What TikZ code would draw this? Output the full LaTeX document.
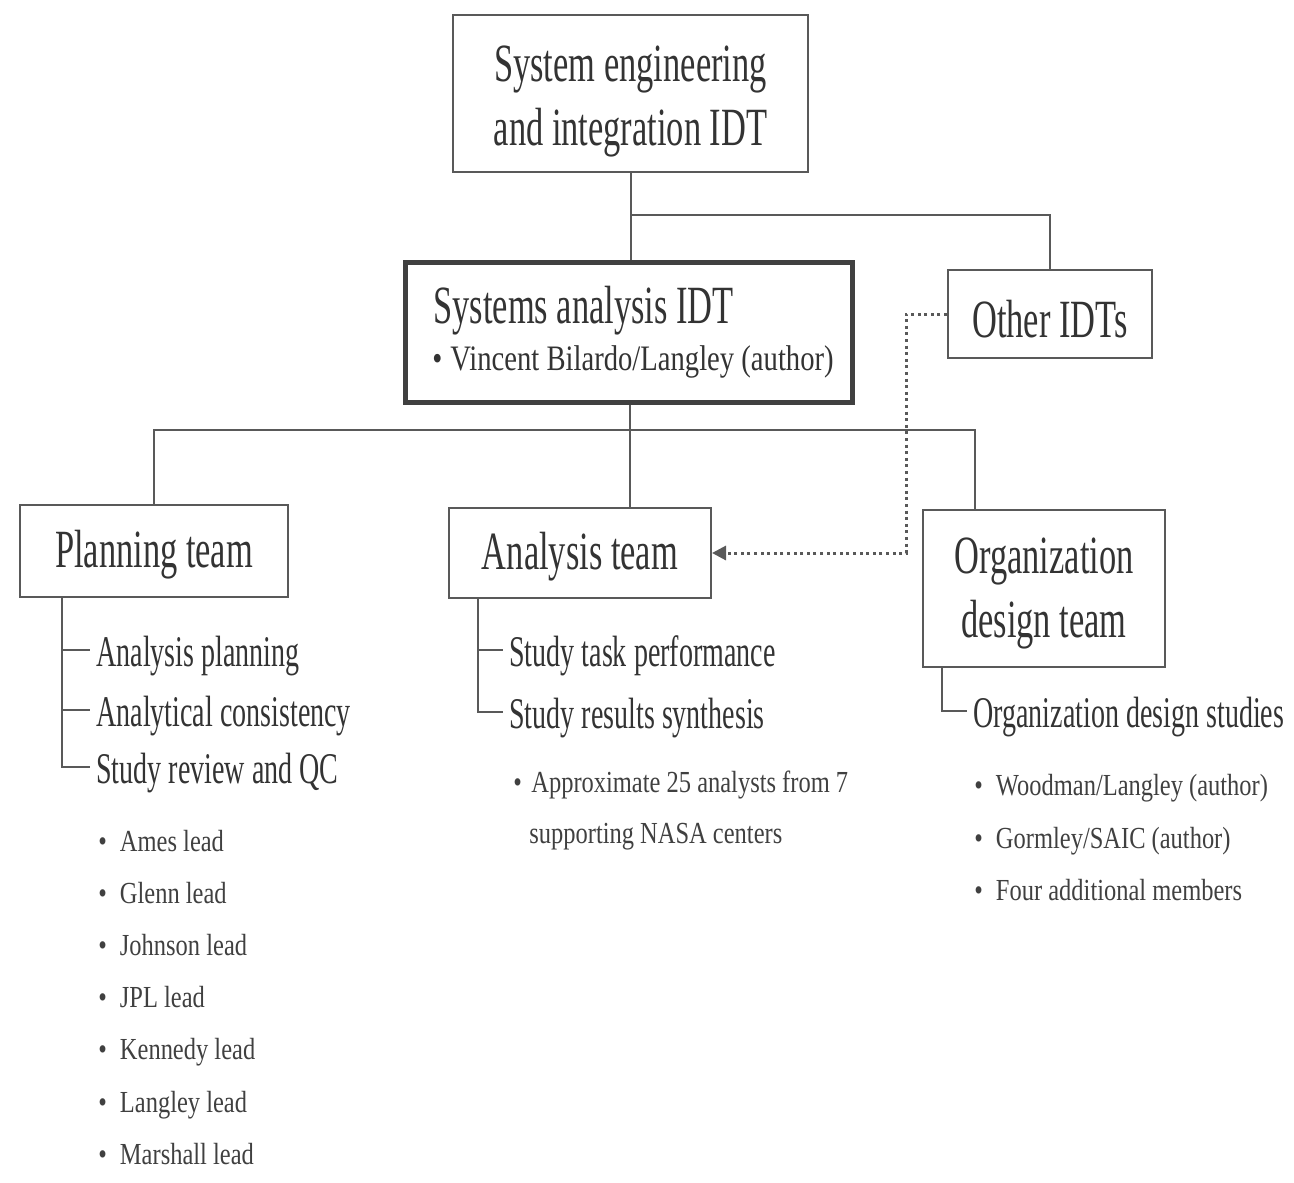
\documentclass[tikz,border=0pt]{standalone}
\usepackage{fontspec}
\setmainfont{Liberation Serif}[FakeStretch=0.64]
\newfontfamily\notefont{Liberation Serif}[FakeStretch=0.8]
\usetikzlibrary{arrows.meta}

\newcommand\bigtxt{\fontsize{26.9}{32}\selectfont}
\newcommand\midtxt{\fontsize{21.9}{27}\selectfont}
\newcommand\smalltxt{\notefont\fontsize{15.3}{26}\selectfont}
\newcommand\bul[1][6.5pt]{\textbullet\hspace{#1}}

\tikzset{
  box/.style={draw=black!65, line width=1pt, text=black!80, font=\bigtxt, align=center, inner sep=0pt},
  link/.style={draw=black!65, line width=1pt},
  item/.style={anchor=west, inner xsep=3pt, inner ysep=0pt, text height=16pt, text depth=0pt, text=black!80, font=\midtxt},
  note/.style={anchor=base west, inner sep=0pt, text=black!75, font=\smalltxt},
}

\begin{document}
\begin{tikzpicture}[x=0.5pt, y=-0.5pt]
\useasboundingbox (0,0) rectangle (1294,1182);

% Boxes
\node[box, minimum width=177.5pt, minimum height=78.5pt] (top) at (630.5,93.5)
  {\rule{0pt}{28pt}System engineering\\and integration IDT\rule[-8pt]{0pt}{8pt}};
\node[box, line width=2.5pt, draw=black!75, minimum width=223.5pt, minimum height=70pt] (sys) at (628.5,332) {};
\node[note, font=\bigtxt, text=black!80] (systitle) at (433,323) {Systems analysis IDT};
\node[note, font=\notefont\fontsize{17.9}{26}\selectfont, text=black!80] (sysauthor) at (432,370) {\bul[4pt]Vincent Bilardo/Langley (author)};
\node[box, text height=23pt, text depth=0pt, minimum width=102pt, minimum height=44pt] (other) at (1050,314) {Other IDTs};
\node[box, text height=20pt, text depth=4pt, minimum width=134pt, minimum height=46pt] (plan) at (154,551) {Planning team};
\node[box, text height=20pt, text depth=4pt, minimum width=131pt, minimum height=45pt] (anal) at (580,553) {Analysis team};
\node[box, minimum width=121pt, minimum height=78.5pt] (org) at (1044,588.5)
  {\rule{0pt}{24pt}Organization\\design team\rule[-7.5pt]{0pt}{7.5pt}};

% Tree links
\coordinate (j1) at (630,215);
\coordinate (j2) at (630,430);
\coordinate (orgtop) at (975,510);
\draw[link] (top.south) -- (top.south |- sys.north);
\draw[link] (j1) -| (other.north);
\draw[link] (sys.south -| j2) -- (j2);
\draw[link] (j2) -| (plan.north);
\draw[link] (j2) -- (j2 |- anal.north);
\draw[link] (j2) -| (orgtop);

% Dotted link from other IDTs
\draw[link, line width=1.5pt, dash pattern=on 1.5pt off 1.8pt, -{Triangle[length=7pt, width=7pt]}] (other.west) -- ++(-41,0) |- (anal.east);

% Planning team items
\coordinate (pl) at (62,597);
\node[item] (pa1) at (90,650) {Analysis planning};
\node[item] (pa2) at (90,710) {Analytical consistency};
\node[item] (pa3) at (90,767) {Study review and QC};
\draw[link] (pl) |- (pa3.west);
\draw[link] (pa1.west -| pl) -- (pa1.west);
\draw[link] (pa2.west -| pl) -- (pa2.west);
\foreach \c [count=\k from 0] in {Ames,Glenn,Johnson,JPL,Kennedy,Langley,Marshall}
  \node[note] (lead\k) at (98,{851+52.2*\k}) {\bul\c\ lead};

% Analysis team items
\coordinate (al) at (478,598);
\node[item] (an1) at (503,650) {Study task performance};
\node[item] (an2) at (503,712) {Study results synthesis};
\draw[link] (al) |- (an2.west);
\draw[link] (an1.west -| al) -- (an1.west);
\node[note] (ana1) at (513,792) {\bul[4.7pt]Approximate 25 analysts from 7};
\node[note] (ana2) at (529,843) {supporting NASA centers};

% Organization design team items
\coordinate (ol) at (942,667);
\node[item] (os1) at (967,711) {Organization design studies};
\draw[link] (ol) |- (os1.west);
\node[note] (om1) at (974,795) {\bul Woodman/Langley (author)};
\node[note] (om2) at (974,848) {\bul Gormley/SAIC (author)};
\node[note] (om3) at (974,900) {\bul Four additional members};

\end{tikzpicture}
\end{document}
